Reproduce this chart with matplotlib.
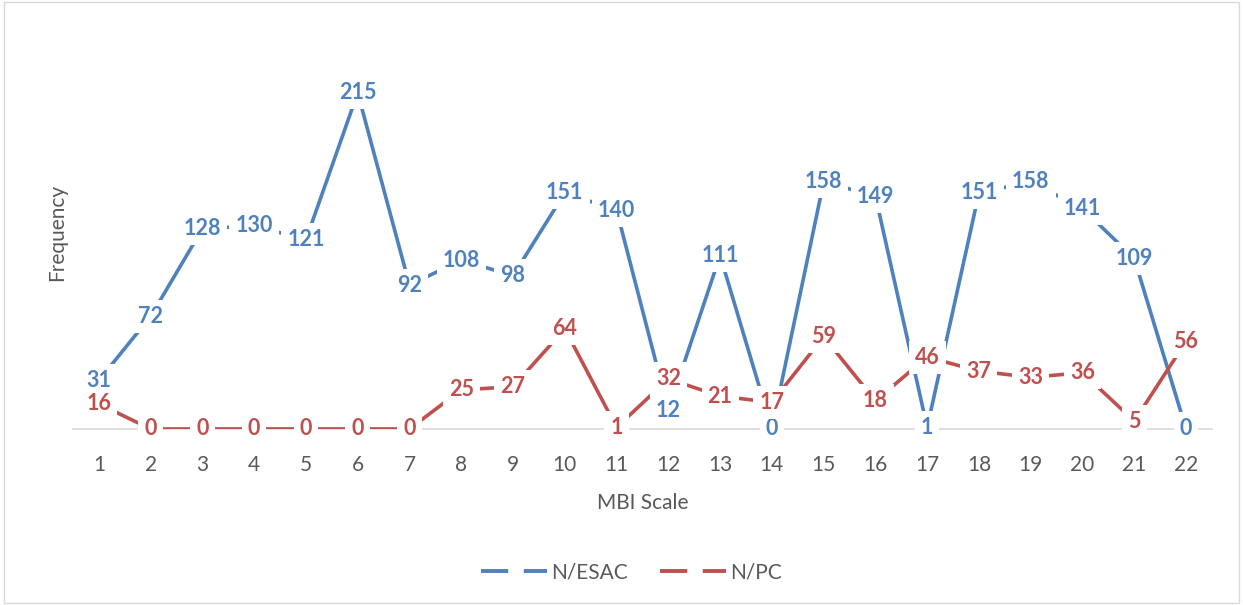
import matplotlib
matplotlib.use("Agg")
import matplotlib.pyplot as plt
from matplotlib.lines import Line2D
from matplotlib.patches import Rectangle

# ---------------------------------------------------------------------------
categories = list(range(1, 23))
n_esac = [31, 72, 128, 130, 121, 215, 92, 108, 98, 151, 140,
          12, 111, 0, 158, 149, 1, 151, 158, 141, 109, 0]
n_pc = [16, 0, 0, 0, 0, 0, 0, 25, 27, 64, 1,
        32, 21, 17, 59, 18, 46, 37, 33, 36, 5, 56]

BLUE = "#4F81BD"
RED = "#C0504D"
GREY_TXT = "#595959"

plt.rcParams["font.family"] = ["Lato", "DejaVu Sans"]

fig = plt.figure(figsize=(12.43, 6.05), dpi=100)
ax = fig.add_axes([0.0587, 0.291, 0.9163, 0.646])

ax.plot(categories, n_esac, color=BLUE, lw=2.6, zorder=2, solid_capstyle="butt")
ax.plot(categories, n_pc, color=RED, lw=2.6, zorder=3, solid_capstyle="butt")

# data labels centred on the points, white box hides the line behind
for series, col in [(n_esac, BLUE), (n_pc, RED)]:
    for x, v in zip(categories, series):
        ax.text(x, v, str(v), color=col, fontsize=15.5, fontweight="bold",
                ha="center", va="center", zorder=5,
                bbox=dict(boxstyle="square,pad=0.28", fc="white", ec="none"))

ax.set_xlim(0.5, 22.5)
ax.set_ylim(0, 250)
ax.set_xticks(categories)
ax.set_xticklabels([str(c) for c in categories])
ax.set_yticks([])
ax.tick_params(axis="x", length=0, pad=19, labelsize=15, labelcolor=GREY_TXT)

for s in ["top", "right", "left"]:
    ax.spines[s].set_visible(False)
ax.spines["bottom"].set_color("#D9D9D9")
ax.spines["bottom"].set_linewidth(1.2)
ax.spines["bottom"].set_zorder(1)

ax.set_xlabel("MBI Scale", fontsize=15, color=GREY_TXT, labelpad=13)
fig.text(0.046, 0.616, "Frequency", rotation=90, fontsize=15, color=GREY_TXT,
         ha="center", va="center")

handles = [Line2D([0], [0], color=BLUE, lw=2.8, dashes=(7, 4)),
           Line2D([0], [0], color=RED, lw=2.8, dashes=(7, 4))]
fig.legend(handles, ["N/ESAC", "N/PC"], loc="center", bbox_to_anchor=(0.508, 0.054),
           ncol=2, frameon=False, fontsize=15, handlelength=3.2,
           handletextpad=0.2, columnspacing=1.5, labelcolor=GREY_TXT)

fig.patches.append(Rectangle((0.003, 0.003), 0.994, 0.994, transform=fig.transFigure,
                             fill=False, ec="#D9D9D9", lw=1.0))

fig.savefig("out.png", dpi=100)
